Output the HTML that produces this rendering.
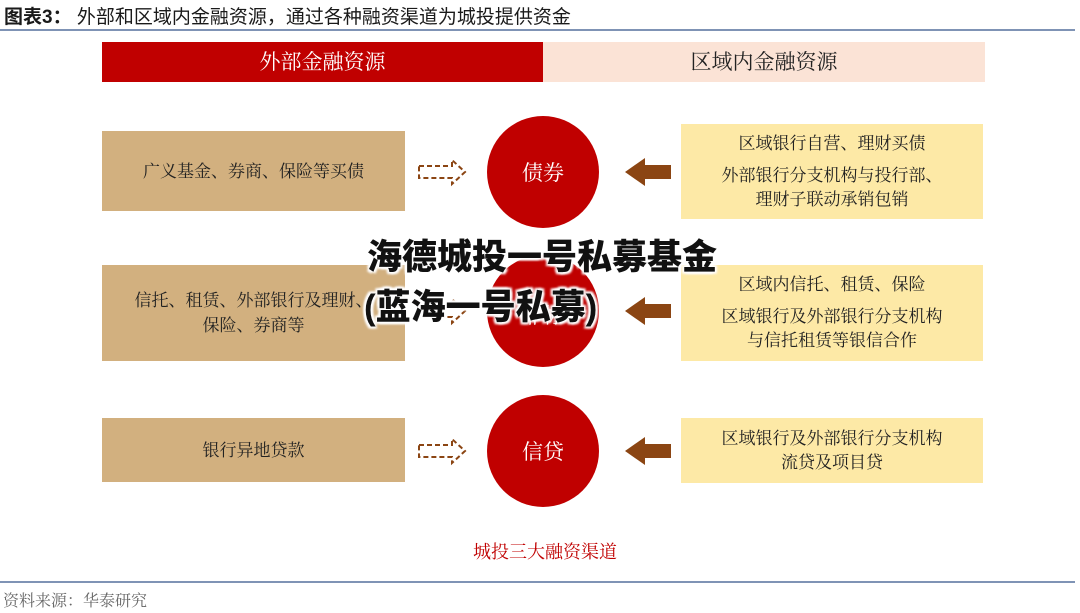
<!DOCTYPE html>
<html><head><meta charset="utf-8"><style>
body{margin:0;width:1080px;height:613px;background:#fff;position:relative;overflow:hidden;font-family:"Liberation Serif","Noto Serif CJK SC",serif;}
div{position:absolute;box-sizing:border-box}
.lb{left:102px;width:303px;background:#d2b07f;display:flex;align-items:center;justify-content:center;text-align:center;font-size:17px;color:#222;line-height:25px}
.rb{left:681px;width:302px;background:#fde9a6;display:flex;flex-direction:column;align-items:center;justify-content:center;text-align:center;font-size:17px;color:#222;line-height:24px}
.c{left:487px;width:112px;height:112px;border-radius:50%;background:#c00000;color:#fff;font-size:21px;display:flex;align-items:center;justify-content:center}
.ov{font-family:"Liberation Sans","Noto Sans CJK SC",sans-serif;font-weight:900;font-size:35px;color:#111;white-space:nowrap;text-shadow:0 0 3px #fff,0 0 3px #fff,2px 2px 2px #fff,-2px -2px 2px #fff,2px -2px 2px #fff,-2px 2px 2px #fff}
</style></head><body>
<div style="left:4px;top:2px;font-size:19px;font-family:'Liberation Sans','Noto Sans CJK SC',sans-serif;color:#1a1a1a"><b>图表3：</b> 外部和区域内金融资源，通过各种融资渠道为城投提供资金</div>
<div style="left:0;top:29px;width:1075px;height:2px;background:#7f93b5"></div>
<div style="left:102px;top:42px;width:441px;height:40px;background:#c00000;color:#fff;font-size:21px;text-align:center;line-height:40px">外部金融资源</div>
<div style="left:543px;top:42px;width:442px;height:40px;background:#fbe3d6;color:#222;font-size:21px;text-align:center;line-height:40px">区域内金融资源</div>

<div class="lb" style="top:131px;height:80px">广义基金、券商、保险等买债</div>
<div class="lb" style="top:265px;height:96px;padding-left:0">信托、租赁、外部银行及理财、<br>保险、券商等</div>
<div class="lb" style="top:418px;height:64px">银行异地贷款</div>

<div class="c" style="top:116px">债券</div>
<div class="c" style="top:255px;padding-top:8px">非标</div>
<div class="c" style="top:395px">信贷</div>

<div class="rb" style="top:124px;height:95px"><div style="position:static">区域银行自营、理财买债</div><div style="position:static;margin-top:8px">外部银行分支机构与投行部、<br>理财子联动承销包销</div></div>
<div class="rb" style="top:265px;height:96px"><div style="position:static">区域内信托、租赁、保险</div><div style="position:static;margin-top:8px">区域银行及外部银行分支机构<br>与信托租赁等银信合作</div></div>
<div class="rb" style="top:418px;height:65px">区域银行及外部银行分支机构<br>流贷及项目贷</div>

<svg style="position:absolute;left:0;top:0" width="1080" height="613">
<g fill="none" stroke="#8b4513" stroke-width="2" stroke-dasharray="5,3">
<path d="M419 166 H452 V160 L465 172 L452 184 V178 H419 Z"/>
<path d="M419 305 H452 V299 L465 311 L452 323 V317 H419 Z"/>
<path d="M419 445 H452 V439 L465 451 L452 463 V457 H419 Z"/>
</g>
<g fill="#8b4513">
<path d="M671 165 H645 V158 L625 172 L645 186 V179 H671 Z"/>
<path d="M671 304 H645 V297 L625 311 L645 325 V318 H671 Z"/>
<path d="M671 444 H645 V437 L625 451 L645 465 V458 H671 Z"/>
</g>
</svg>

<div style="left:0;top:538px;width:1090px;text-align:center;font-size:18px;color:#c00000">城投三大融资渠道</div>
<div style="left:0;top:581px;width:1075px;height:2px;background:#7f93b5"></div>
<div style="left:3px;top:588px;font-size:16px;color:#666">资料来源：华泰研究</div>

<div class="ov" style="left:367px;top:229px">海德城投一号私募基金</div>
<div class="ov" style="left:364px;top:279px">(蓝海一号私募)</div>
</body></html>
